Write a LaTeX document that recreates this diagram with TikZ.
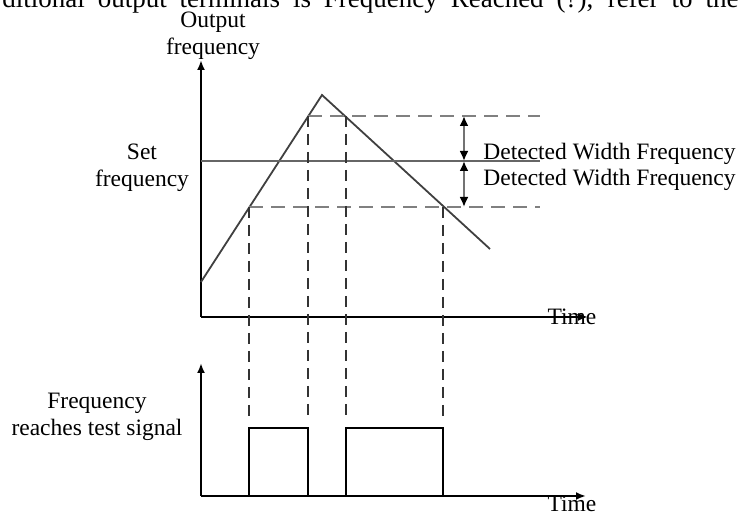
\documentclass[tikz,border=0pt]{standalone}
\usepackage{fontspec}
\setmainfont{Liberation Serif}
\usetikzlibrary{arrows.meta}

\begin{document}
\begin{tikzpicture}[x=0.5pt, y=-0.5pt,
  axis/.style={line width=1pt, -{Latex[length=5pt,width=4pt]}},
  ramp/.style={line width=0.9pt, draw=black!75},
  guide/.style={line width=1.4pt, draw=black!50, dash pattern=on 7pt off 4pt},
  drop/.style={line width=0.9pt, draw=black!80, dash pattern=on 5.5pt off 3.5pt},
  band/.style={line width=1.4pt, draw=black!55,
    {Latex[black,length=5pt,width=4.5pt]}-{Latex[black,length=5pt,width=4.5pt]}},
  lbl/.style={inner sep=0pt, font=\fontsize{11.75}{13.5}\selectfont}]
  \useasboundingbox (0,0) rectangle (741,513);
  \clip (0,0) rectangle (741,513);
  \node[lbl, anchor=base west, font=\fontsize{13.5}{16}\selectfont] (topline) at (2,8)
    {\makebox[368pt][s]{ditional output terminals is Frequency Reached (?), refer to the}};

  \draw[axis] (201,317) -- (201,60);
  \draw[axis] (201,317) -- (588,317);
  \draw[ramp] (201,282) -- (322,95) -- (490,249);
  \draw[line width=1.2pt, draw=black!60] (201,161) -- (540,161);
  \draw[guide] (308,116) -- (540,116);
  \draw[guide] (249,207) -- (540,207);
  \draw[band] (464,116) -- (464,161);
  \draw[band] (464,161) -- (464,207);
  \draw[drop] (249,207) -- (249,420);
  \draw[drop] (308,116) -- (308,420);
  \draw[drop] (346,116) -- (346,420);
  \draw[drop] (443,207) -- (443,420);

  \draw[axis] (201,496) -- (201,363);
  \draw[axis] (201,496) -- (586,496);
  \draw[line width=1pt] (249,496) -- (249,428) -- (308,428) -- (308,496);
  \draw[line width=1pt] (346,496) -- (346,428) -- (443,428) -- (443,496);

  \node[lbl, align=center] (outlbl) at (213,36) {Output\\frequency};
  \node[lbl, align=center] (setlbl) at (142,168) {Set\\frequency};
  \node[lbl, anchor=base west] (upwidth) at (483,160) {Detected Width Frequency};
  \node[lbl, anchor=base west] (lowwidth) at (483,186) {Detected Width Frequency};
  \node[lbl, align=center] (siglbl) at (97,417) {Frequency\\reaches test signal};
  \node[lbl, anchor=base] (uptime) at (572,325) {Time};
  \node[lbl, anchor=base] (lowtime) at (572,512) {Time};
\end{tikzpicture}
\end{document}
